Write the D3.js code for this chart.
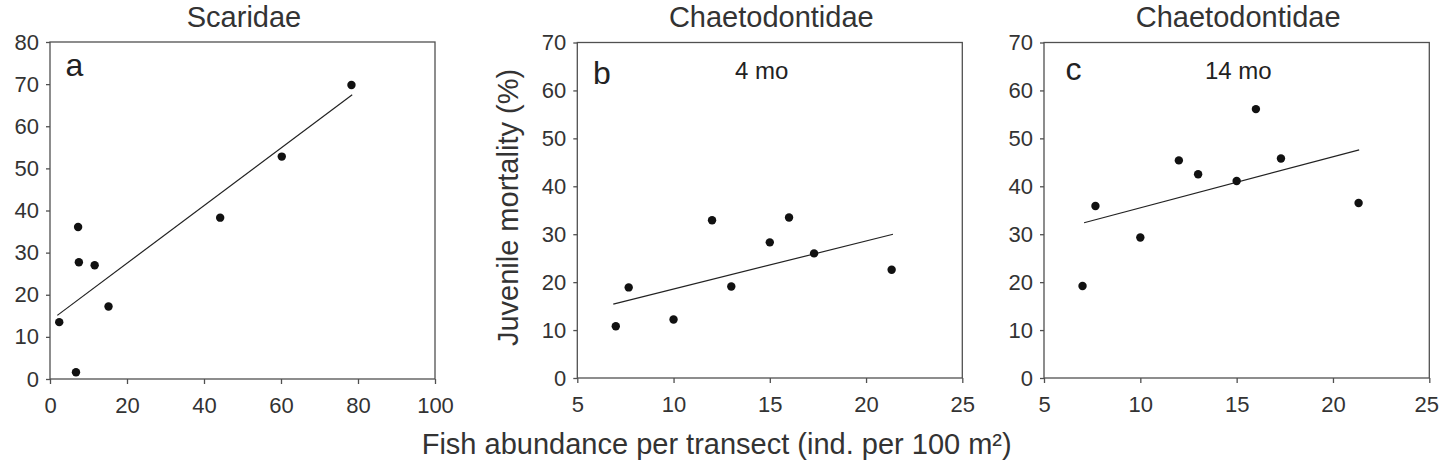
<!DOCTYPE html>
<html>
<head>
<meta charset="utf-8">
<script src="https://cdn.jsdelivr.net/npm/d3@7"></script>
<style>
  html, body { margin: 0; padding: 0; background: #fff; }
  svg { display: block; font-family: "Liberation Sans", Arial, Helvetica, sans-serif; }
</style>
</head>
<body>
<svg id="chart" width="1440" height="460"></svg>
<script>
// ---- Data ----
const scaridaeX = [2.4, 6.75, 7.3, 7.5, 11.6, 15.2, 44.2, 60.2, 78.3];
const scaridaeY = [13.5, 1.6, 36.1, 27.7, 27.0, 17.2, 38.3, 52.8, 69.8];
const scaridaeTrend = [[1.9, 15.1], [78.5, 67.5]];

const chaetoX = [7.0, 7.67, 10.0, 12.0, 13.0, 15.0, 16.0, 17.3, 21.33];
const chaeto4moY = [10.8, 18.9, 12.2, 32.9, 19.1, 28.3, 33.5, 26.0, 22.6];
const chaeto4moTrend = [[6.87, 15.4], [21.4, 30.0]];
const chaeto14moY = [19.2, 35.9, 29.3, 45.4, 42.5, 41.1, 56.1, 45.8, 36.5];
const chaeto14moTrend = [[7.08, 32.4], [21.36, 47.6]];

const panelTitles = ["Scaridae", "Chaetodontidae", "Chaetodontidae"];
const panelLetters = ["a", "b", "c"];
const panelNotes = ["", "4 mo", "14 mo"];
const ticksXA = [0, 20, 40, 60, 80, 100];
const ticksYA = [0, 10, 20, 30, 40, 50, 60, 70, 80];
const ticksXBC = [5, 10, 15, 20, 25];
const ticksYBC = [0, 10, 20, 30, 40, 50, 60, 70];
const yAxisLabel = "Juvenile mortality (%)";
const xAxisLabel = "Fish abundance per transect (ind. per 100 m²)";

// ---- Layout ----
const panels = [
  { xs: scaridaeX, ys: scaridaeY, trend: scaridaeTrend, xDom: [0, 100], yDom: [0, 80],
    xt: ticksXA, yt: ticksYA, left: 50, right: 435, top: 42, bottom: 379,
    letterPos: [65.4, 76], notePos: null },
  { xs: chaetoX, ys: chaeto4moY, trend: chaeto4moTrend, xDom: [5, 25], yDom: [0, 70],
    xt: ticksXBC, yt: ticksYBC, left: 577.3, right: 962.3, top: 42.5, bottom: 378,
    letterPos: [593, 84], notePos: [761.7, 79] },
  { xs: chaetoX, ys: chaeto14moY, trend: chaeto14moTrend, xDom: [5, 25], yDom: [0, 70],
    xt: ticksXBC, yt: ticksYBC, left: 1044, right: 1429.3, top: 42.5, bottom: 378,
    letterPos: [1065.5, 80], notePos: [1238.3, 79] }
];

const svg = d3.select("#chart");
const frameColor = "#505050";
const textColor = "#333";

panels.forEach((p, i) => {
  const x = d3.scaleLinear().domain(p.xDom).range([p.left, p.right]);
  const y = d3.scaleLinear().domain(p.yDom).range([p.bottom, p.top]);
  const g = svg.append("g");

  // frame
  g.append("rect")
    .attr("x", p.left).attr("y", p.top)
    .attr("width", p.right - p.left).attr("height", p.bottom - p.top)
    .attr("fill", "none").attr("stroke", frameColor).attr("stroke-width", 1.3);

  // axes
  const ax = g.append("g").attr("transform", `translate(0,${p.bottom})`)
    .call(d3.axisBottom(x).tickValues(p.xt).tickFormat(d3.format("d")).tickSize(5).tickSizeOuter(0).tickPadding(13));
  const ay = g.append("g").attr("transform", `translate(${p.left},0)`)
    .call(d3.axisLeft(y).tickValues(p.yt).tickFormat(d3.format("d")).tickSize(4).tickSizeOuter(0).tickPadding(7));
  [ax, ay].forEach(a => {
    a.select(".domain").remove();
    a.selectAll(".tick line").attr("stroke", frameColor).attr("stroke-width", 1.3);
    a.selectAll(".tick text").attr("fill", textColor).style("font-size", "22px")
      .style("font-family", "'Liberation Sans', Arial, sans-serif");
  });
  // keep the right-most tick label of the last panel inside the page
  if (i === panels.length - 1) {
    ax.selectAll(".tick text").filter(d => d === p.xDom[1]).attr("dx", -3);
  }

  // trend line
  g.append("path")
    .datum(p.trend)
    .attr("d", d3.line().x(d => x(d[0])).y(d => y(d[1])))
    .attr("fill", "none").attr("stroke", "#222").attr("stroke-width", 1.2);

  // points
  g.selectAll("circle.pt").data(p.xs.map((v, k) => [v, p.ys[k]]))
    .join("circle").attr("class", "pt")
    .attr("cx", d => x(d[0])).attr("cy", d => y(d[1]))
    .attr("r", 4.2).attr("fill", "#111");

  // title
  g.append("text")
    .attr("x", (p.left + p.right) / 2 + 1.5).attr("y", 27.3)
    .attr("text-anchor", "middle").attr("fill", textColor)
    .style("font-size", "29px").text(panelTitles[i]);

  // panel letter
  g.append("text")
    .attr("x", p.letterPos[0]).attr("y", p.letterPos[1])
    .attr("fill", "#222").style("font-size", "32px").text(panelLetters[i]);

  if (p.notePos) {
    g.append("text")
      .attr("x", p.notePos[0]).attr("y", p.notePos[1])
      .attr("text-anchor", "middle").attr("fill", "#222")
      .style("font-size", "24px").text(panelNotes[i]);
  }
});

// y axis label
svg.append("text")
  .attr("transform", "translate(517.7,207.5) rotate(-90)")
  .attr("text-anchor", "middle").attr("fill", textColor)
  .style("font-size", "29px").text(yAxisLabel);

// x axis label
svg.append("text")
  .attr("x", 716.7).attr("y", 454.3)
  .attr("text-anchor", "middle").attr("fill", textColor)
  .style("font-size", "29px").text(xAxisLabel);
</script>
</body>
</html>
